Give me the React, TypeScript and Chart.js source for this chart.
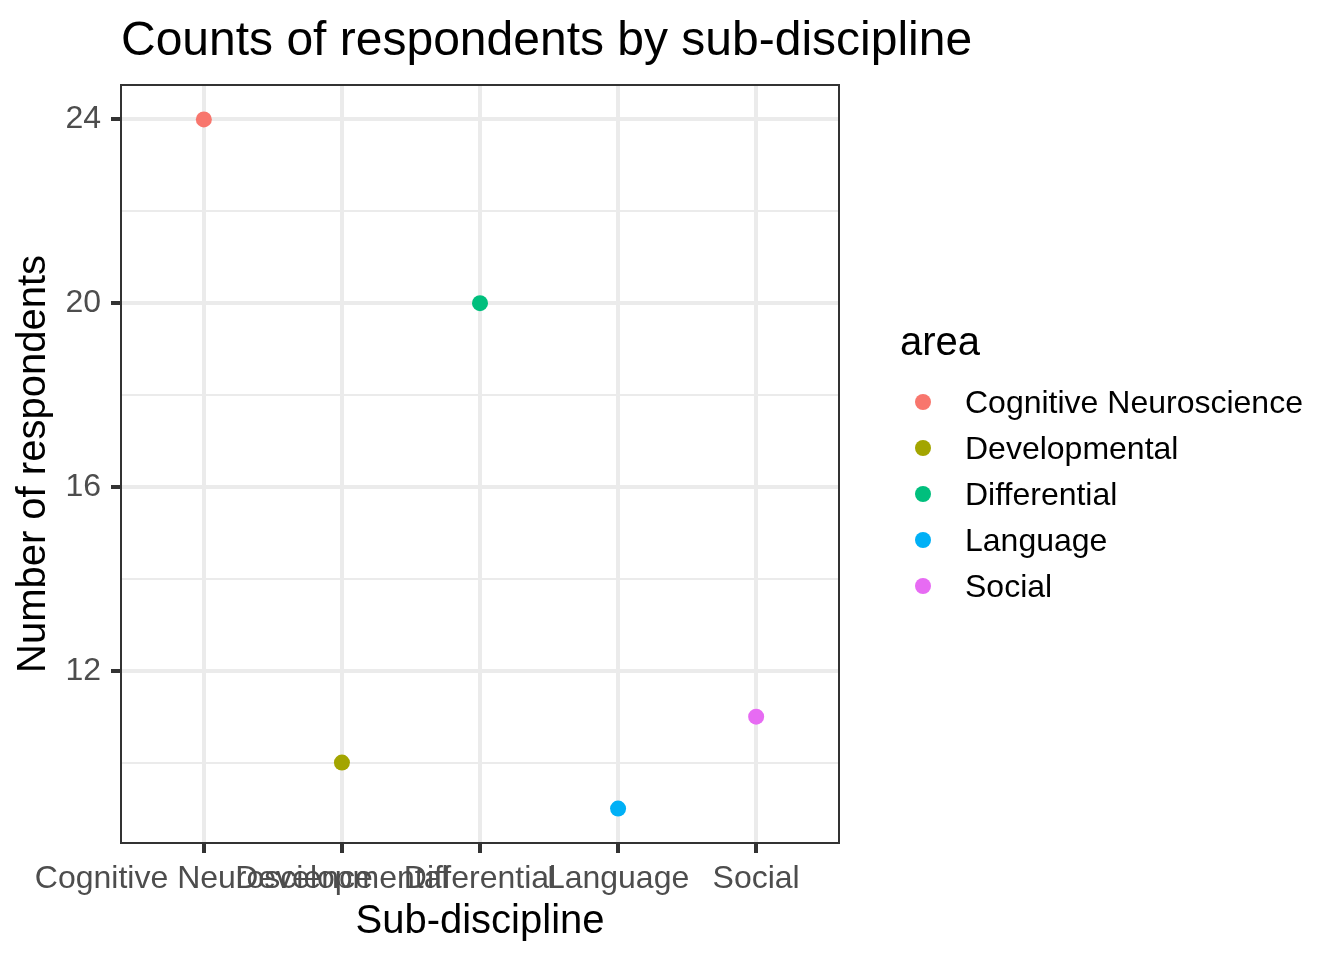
import React, { useEffect, useRef } from "react";
import { Chart, registerables } from "chart.js";

Chart.register(...registerables);

const categories = ["Cognitive Neuroscience", "Developmental", "Differential", "Language", "Social"];
const counts = [24, 10, 20, 9, 11];
const colors = ["#F8766D", "#A3A500", "#00BF7D", "#00B0F6", "#E76BF3"];
const yMajorTicks = [12, 16, 20, 24];
const yMinorTicks = [10, 14, 18, 22];

const FONT = '"Liberation Sans", Arial, Helvetica, sans-serif';

export default function App() {
  const ref = useRef<HTMLCanvasElement>(null);

  useEffect(() => {
    const panelBorder = {
      id: "panelBorder",
      afterDatasetsDraw(chart: any) {
        const { ctx, chartArea: a } = chart;
        ctx.save();
        ctx.strokeStyle = "#333333";
        ctx.lineWidth = 2;
        ctx.strokeRect(a.left, a.top, a.right - a.left, a.bottom - a.top);
        ctx.restore();
      },
    };

    const isMajor = (v: number) => yMajorTicks.includes(v);

    const chart = new Chart(ref.current as HTMLCanvasElement, {
      type: "scatter",
      data: {
        datasets: [
          {
            data: categories.map((_, i) => ({ x: i, y: counts[i] })),
            backgroundColor: colors,
            pointRadius: 8,
            pointHoverRadius: 8,
            borderWidth: 0,
          },
        ],
      },
      options: {
        responsive: false,
        animation: false,
        devicePixelRatio: 1,
        layout: { padding: { left: 0, top: 85, right: 505, bottom: 0 } },
        plugins: {
          legend: { display: false },
          tooltip: { enabled: false },
          title: { display: false },
        },
        scales: {
          x: {
            type: "linear",
            min: -0.6,
            max: categories.length - 0.4,
            afterBuildTicks: (s: any) => {
              s.ticks = categories.map((_, i) => ({ value: i }));
            },
            afterFit: (s: any) => {
              s.height = 117;
            },
            ticks: {
              autoSkip: false,
              maxRotation: 0,
              minRotation: 0,
              padding: 7,
              color: "#4D4D4D",
              font: { family: FONT, size: 32 },
              callback: (v: any) => categories[v as number] ?? "",
            },
            grid: {
              color: "#EBEBEB",
              lineWidth: 4,
              tickLength: 10,
              tickColor: "#333333",
              tickWidth: 4,
            },
            border: { display: false },
            title: {
              display: true,
              text: "Sub-discipline",
              color: "#000000",
              font: { family: FONT, size: 40 },
              padding: { top: 0, bottom: 14 },
            },
          },
          y: {
            type: "linear",
            min: 8.25,
            max: 24.75,
            afterBuildTicks: (s: any) => {
              s.ticks = [...yMinorTicks, ...yMajorTicks]
                .sort((a, b) => a - b)
                .map((v) => ({ value: v }));
            },
            afterFit: (s: any) => {
              s.width = 121;
            },
            ticks: {
              autoSkip: false,
              padding: 10,
              color: "#4D4D4D",
              font: { family: FONT, size: 32 },
              callback: (v: any) => (isMajor(v as number) ? String(v) : ""),
            },
            grid: {
              color: "#EBEBEB",
              lineWidth: (ctx: any) => (isMajor(ctx.tick?.value) ? 4 : 2),
              tickLength: 10,
              tickColor: (ctx: any) => (isMajor(ctx.tick?.value) ? "#333333" : "rgba(0,0,0,0)"),
              tickWidth: 4,
            },
            border: { display: false },
            title: {
              display: true,
              text: "Number of respondents",
              color: "#000000",
              font: { family: FONT, size: 40 },
              padding: { top: 10, bottom: 0 },
            },
          },
        },
      },
      plugins: [panelBorder],
    } as any);

    return () => chart.destroy();
  }, []);

  return (
    <div
      style={{
        position: "absolute",
        left: 0,
        top: 0,
        width: 1344,
        height: 960,
        background: "#FFFFFF",
        fontFamily: FONT,
        overflow: "hidden",
      }}
    >
      <canvas ref={ref} width={1344} height={960} style={{ position: "absolute", left: 0, top: 0, width: 1344, height: 960 }} />
      <div
        style={{
          position: "absolute",
          left: 121,
          top: 15,
          fontSize: 48,
          lineHeight: "48px",
          color: "#000000",
          whiteSpace: "nowrap",
        }}
      >
        Counts of respondents by sub-discipline
      </div>
      <div
        style={{
          position: "absolute",
          left: 900,
          top: 321,
          fontSize: 40,
          lineHeight: "40px",
          color: "#000000",
          whiteSpace: "nowrap",
        }}
      >
        area
      </div>
      {categories.map((c, k) => (
        <React.Fragment key={c}>
          <div
            style={{
              position: "absolute",
              left: 923 - 8,
              top: 402 + 46 * k - 8,
              width: 16,
              height: 16,
              borderRadius: "50%",
              background: colors[k],
            }}
          />
          <div
            style={{
              position: "absolute",
              left: 965,
              top: 386 + 46 * k,
              fontSize: 32,
              lineHeight: "32px",
              color: "#000000",
              whiteSpace: "nowrap",
            }}
          >
            {c}
          </div>
        </React.Fragment>
      ))}
    </div>
  );
}
